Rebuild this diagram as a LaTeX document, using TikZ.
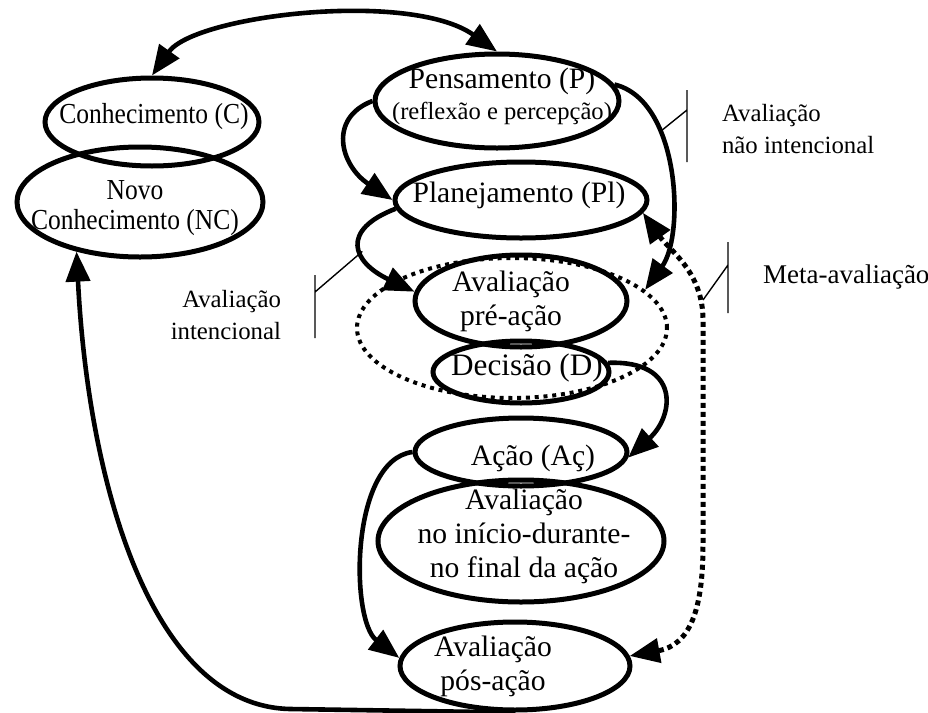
\documentclass[tikz,border=0pt]{standalone}
\usepackage{fontspec}
\setmainfont{Liberation Serif}
\newfontfamily\narrowserif[FakeStretch=0.88]{Liberation Serif}
\usetikzlibrary{shapes.geometric,arrows.meta}
\tikzset{
  stage/.style={ellipse,draw,line width=2.5pt,inner sep=0pt},
  big/.style={font=\fontsize{14.8}{17}\selectfont},
  narrow/.style={font=\narrowserif\fontsize{14.5}{15}\selectfont},
  flow/.style={line width=2.3pt,-{Triangle[length=15pt,width=12pt]}},
  metaflow/.style={line width=2.5pt,dash pattern=on 2.5pt off 2pt,
    {Triangle[length=15pt,width=12pt]}-{Triangle[length=15pt,width=12pt]}},
  metaring/.style={ellipse,draw,line width=2pt,dash pattern=on 2pt off 2.4pt,inner sep=0pt},
  leader/.style={line width=0.7pt},
  note/.style={font=\fontsize{12.4}{16}\selectfont}
}
\begin{document}
\begin{tikzpicture}[x=0.5pt,y=-0.5pt,font=\fontsize{12.5}{15}\selectfont]
  \useasboundingbox (0,0) rectangle (928,713);
  \node[stage,minimum width=107pt,minimum height=44pt,
    label={[narrow,xshift=1pt,yshift=2.5pt]center:Conhecimento (C)}] (c) at (152,122) {};
  \node[stage,minimum width=123pt,minimum height=55pt,
    label={[narrow,align=center,xshift=-2.5pt,yshift=-3pt]center:{Novo\\Conhecimento (NC)}}] (nc) at (140,202) {};
  \node[stage,minimum width=122pt,minimum height=47pt,
    label={[big,align=center,xshift=2.5pt,yshift=2.5pt]center:{Pensamento (P)\\[-1.5pt]{\fontsize{12.3}{15}\selectfont(reflexão e percepção)}}}] (pen) at (497,101) {};
  \node[stage,minimum width=126pt,minimum height=38pt,
    label={[big,xshift=-1pt,yshift=2.5pt]center:Planejamento (Pl)}] (pl) at (521,200) {};
  \node[metaring,minimum width=155pt,minimum height=70pt] (meta) at (512,328) {};
  \node[stage,minimum width=106pt,minimum height=46pt,
    label={[big,align=center,xshift=-5pt]center:{Avaliação\\pré-ação}}] (pre) at (521,301) {};
  \node[stage,minimum width=88pt,minimum height=31pt,
    label={[font=\fontsize{15.6}{17}\selectfont,xshift=3pt,yshift=2pt]center:Decisão (D)}] (dec) at (521,372) {};
  \node[stage,minimum width=106pt,minimum height=34pt,
    label={[big,xshift=6pt,yshift=-3pt]center:Ação (Aç)}] (acao) at (521,452) {};
  \node[stage,minimum width=143pt,minimum height=61pt,
    label={[big,align=center,xshift=1.5pt,yshift=2.5pt]center:{Avaliação\\no início-durante-\\no final da ação}}] (durante) at (521,541) {};
  \node[stage,minimum width=115pt,minimum height=44pt,
    label={[big,align=center,xshift=-11pt]center:{Avaliação\\pós-ação}}] (pos) at (515,666) {};

  \node[note,align=right,anchor=east] (intlabel) at (288,315) {Avaliação\\intencional};
  \node[note,align=left,anchor=west] (nilabel) at (715,129) {Avaliação\\não intencional};
  \node[font=\fontsize{13.5}{16}\selectfont,anchor=west] (metalabel) at (756,277) {Meta-avaliação};

  \draw[line width=2.3pt,{Triangle[length=15pt,width=12pt]}-{Triangle[length=15pt,width=12pt]}]
    (c.north) .. controls (195,15) and (410,-10) .. (pen.north);
  \draw[flow] (pen.west) .. controls (328,118) and (340,165) .. (pl.west);
  \draw[flow] (pl.184) .. controls (340,230) and (352,262) .. (pre.175) coordinate[pos=0.55] (ia);
  \draw[flow] (pen.8) .. controls (680,100) and (685,235) .. (meta.16) coordinate[pos=0.33] (ni);
  \draw[flow] (dec.6) .. controls (680,360) and (675,415) .. (acao.-3);
  \draw[flow] (acao.west) .. controls (350,460) and (350,620) .. (pos.176);
  \coordinate (turn) at (290,709);
  \draw[flow] (pos.south) -- (turn) .. controls (150,706) and (88,480) .. (nc.-142);
  \coordinate (ma) at (703,300);
  \draw[metaflow] (pl.-6) .. controls (670,251) and (703,272) .. (703,320)
    -- (703,545) .. controls (703,610) and (690,645) .. (pos.5);

  \draw[leader] (ia) -- (315,292) (315,275) -- (315,338);
  \draw[leader] (ni) -- (687,110) (687,90) -- (687,162);
  \draw[leader] (ma) -- (728,265) (728,242) -- (728,313);
\end{tikzpicture}
\end{document}
